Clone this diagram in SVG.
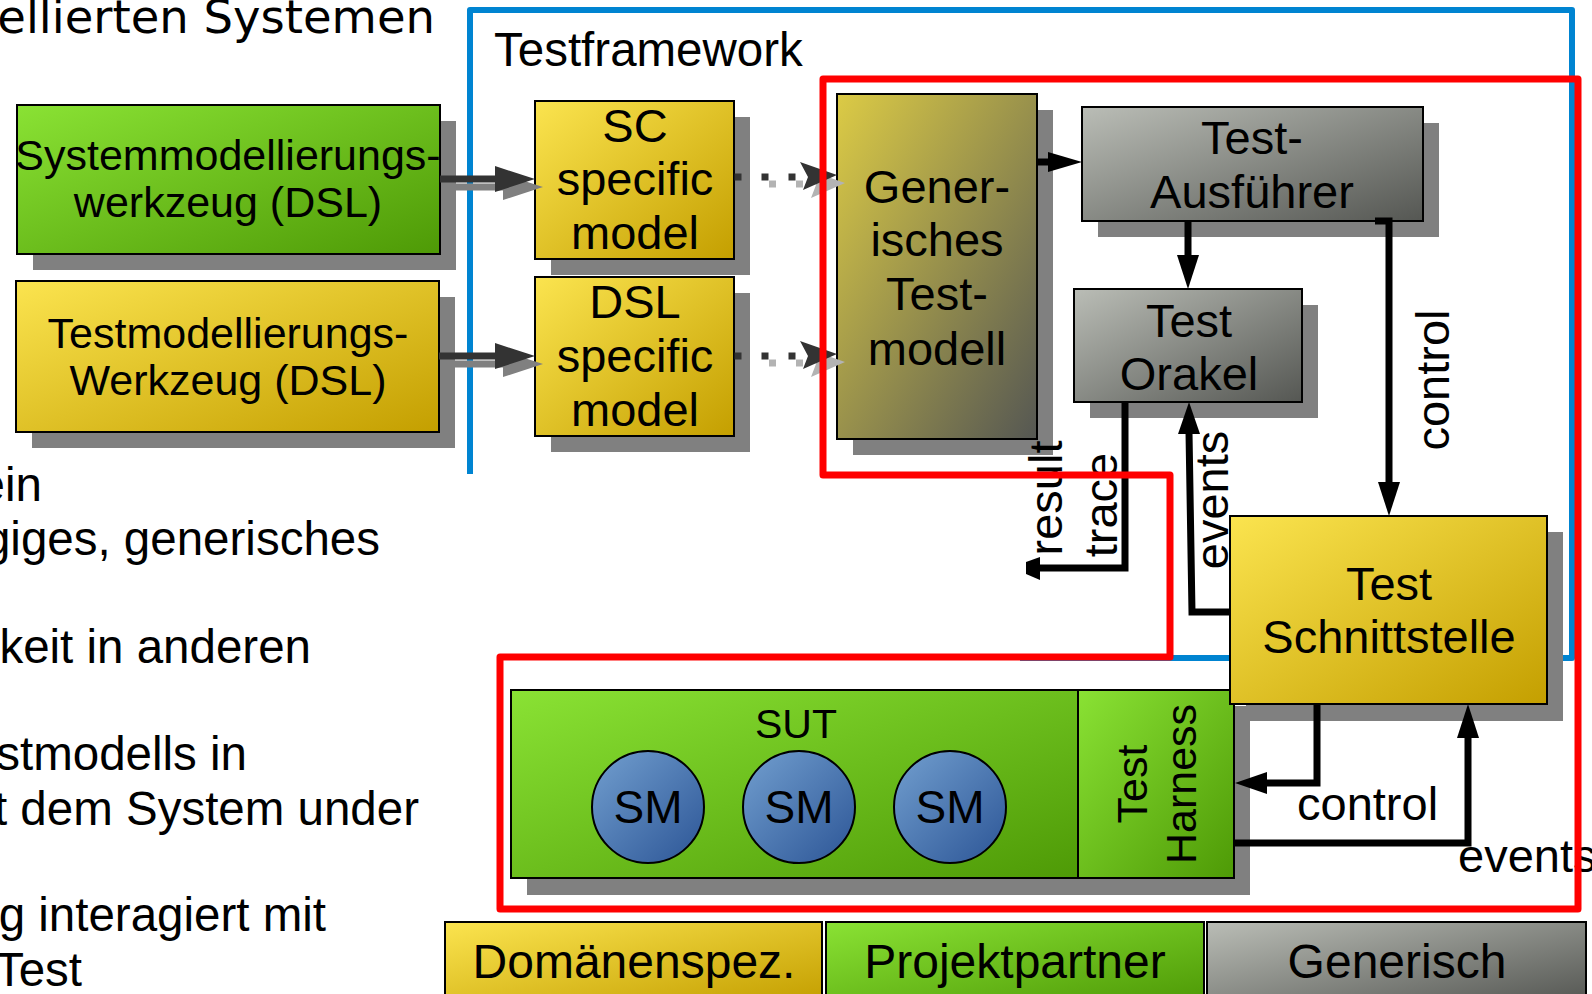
<svg xmlns="http://www.w3.org/2000/svg" width="1592" height="994" viewBox="0 0 1592 994">
<defs>
<linearGradient id="gY" x1="0" y1="0" x2="1" y2="1"><stop offset="0" stop-color="#fbe44f"/><stop offset="1" stop-color="#c49f00"/></linearGradient>
<linearGradient id="gG" x1="0" y1="0" x2="1" y2="1"><stop offset="0" stop-color="#8ae234"/><stop offset="1" stop-color="#4e9a06"/></linearGradient>
<linearGradient id="gA" x1="0" y1="0" x2="1" y2="1"><stop offset="0" stop-color="#babdb6"/><stop offset="1" stop-color="#555753"/></linearGradient>
<linearGradient id="gB" x1="0" y1="0" x2="1" y2="1"><stop offset="0" stop-color="#729fcf"/><stop offset="1" stop-color="#2c5596"/></linearGradient>
<linearGradient id="gGen" x1="0" y1="0" x2="1" y2="1"><stop offset="0" stop-color="#dccb45"/><stop offset="1" stop-color="#555753"/></linearGradient>
</defs>
<style>
.t{font-family:"Liberation Sans",Arial,sans-serif;fill:#000;}
.m{text-anchor:middle;}
.e{text-anchor:end;}
.box{stroke:#000;stroke-width:2;}
.sh{fill:#808080;}
.f42{font-size:43px;}
.f46{font-size:47px;}
.f47{font-size:47.5px;}
.ln{fill:none;stroke:#000;stroke-width:7;stroke-linejoin:miter;}
.ah{fill:#000;}
.dk{fill:none;stroke:#333;stroke-width:7;}
.dkf{fill:#333;}
.shl{fill:none;stroke:#808080;stroke-width:7;}
.shf{fill:#808080;}
.dot{fill:none;stroke:#333;stroke-width:7;stroke-dasharray:7 20;}
.dotsh{fill:none;stroke:#b3b3b3;stroke-width:7;stroke-dasharray:7 20;}
.dotshf{fill:#b3b3b3;}
</style>

<g id="background-text">
<text class="e" x="435" y="33" style="font-family:'DejaVu Sans',sans-serif;font-size:46.5px;fill:#000">ellierten Systemen</text>
<text class="t e f47" x="42" y="501">ein</text>
<text class="t e f47" x="380" y="555">giges, generisches</text>
<text class="t e f47" x="311" y="663">keit in anderen</text>
<text class="t e f47" x="247" y="770">stmodells in</text>
<text class="t e f47" x="419" y="825">t dem System under</text>
<text class="t e f47" x="326" y="931">g interagiert mit</text>
<text class="t e f47" x="82" y="986">Test</text>
</g>

<g id="testframework">
<polyline points="470,474 470,10 1572,10 1572,658 1020,658" fill="none" stroke="#0084d1" stroke-width="6" stroke-linejoin="round"/>
<text class="t" x="494" y="66" style="font-size:47.5px">Testframework</text>
</g>

<g id="systemmodellierungswerkzeug">
<rect class="sh" x="33" y="121" width="423" height="149"/>
<rect class="box" x="17" y="105" width="423" height="149" fill="url(#gG)"/>
<text class="t m f42" x="228" y="170">Systemmodellierungs-</text>
<text class="t m f42" x="228" y="217">werkzeug (DSL)</text>
</g>

<g id="testmodellierungswerkzeug">
<rect class="sh" x="32" y="297" width="423" height="151"/>
<rect class="box" x="16" y="281" width="423" height="151" fill="url(#gY)"/>
<text class="t m f42" x="228" y="348">Testmodellierungs-</text>
<text class="t m f42" x="228" y="395">Werkzeug (DSL)</text>
</g>

<g id="sc-model">
<rect class="sh" x="551" y="117" width="199" height="158"/>
<rect class="box" x="535" y="101" width="199" height="158" fill="url(#gY)"/>
<text class="t m f46" x="635" y="142">SC</text>
<text class="t m f46" x="635" y="195">specific</text>
<text class="t m f46" x="635" y="249">model</text>
</g>

<g id="dsl-model">
<rect class="sh" x="551" y="293" width="199" height="159"/>
<rect class="box" x="535" y="277" width="199" height="159" fill="url(#gY)"/>
<text class="t m f46" x="635" y="318">DSL</text>
<text class="t m f46" x="635" y="372">specific</text>
<text class="t m f46" x="635" y="426">model</text>
</g>

<g id="generisches-testmodell">
<rect class="sh" x="853" y="110" width="200" height="345"/>
<rect class="box" x="837" y="94" width="200" height="345" fill="url(#gGen)"/>
<text class="t m f46" x="937" y="203">Gener-</text>
<text class="t m f46" x="937" y="256">isches</text>
<text class="t m f46" x="937" y="310">Test-</text>
<text class="t m f46" x="937" y="365">modell</text>
</g>

<g id="test-ausfuehrer">
<rect class="sh" x="1098" y="123" width="341" height="114"/>
<rect class="box" x="1082" y="107" width="341" height="114" fill="url(#gA)"/>
<text class="t m f46" x="1252" y="154">Test-</text>
<text class="t m f46" x="1252" y="208">Ausführer</text>
</g>

<g id="test-orakel">
<rect class="sh" x="1090" y="305" width="228" height="113"/>
<rect class="box" x="1074" y="289" width="228" height="113" fill="url(#gA)"/>
<text class="t m f46" x="1189" y="337">Test</text>
<text class="t m f46" x="1189" y="390">Orakel</text>
</g>

<g id="sut">
<rect class="sh" x="527" y="706" width="723" height="189"/>
<rect class="box" x="511" y="690" width="567" height="188" fill="url(#gG)"/>
<text class="t m" x="796" y="738" style="font-size:41px">SUT</text>
<ellipse class="box" cx="648" cy="807" rx="56" ry="56" fill="url(#gB)" stroke-width="1.5"/>
<ellipse class="box" cx="799" cy="807" rx="56" ry="56" fill="url(#gB)" stroke-width="1.5"/>
<ellipse class="box" cx="950" cy="807" rx="56" ry="56" fill="url(#gB)" stroke-width="1.5"/>
<text class="t m" x="648" y="823" style="font-size:46px">SM</text>
<text class="t m" x="799" y="823" style="font-size:46px">SM</text>
<text class="t m" x="950" y="823" style="font-size:46px">SM</text>
</g>

<g id="test-harness">
<rect class="box" x="1078" y="690" width="156" height="188" fill="url(#gG)"/>
<text class="t m f42" transform="translate(1147,784) rotate(-90)">Test</text>
<text class="t m f42" transform="translate(1196,784) rotate(-90)">Harness</text>
</g>

<g id="test-schnittstelle">
<rect class="sh" x="1246" y="532" width="317" height="189"/>
<rect class="box" x="1230" y="516" width="317" height="188" fill="url(#gY)"/>
<text class="t m f46" x="1389" y="600">Test</text>
<text class="t m f46" x="1389" y="653">Schnittstelle</text>
</g>

<g id="connectors">
<line class="shl" x1="448" y1="187" x2="505" y2="187"/>
<polygon class="shf" points="503,174 543,187 503,200"/>
<line class="dk" x1="440" y1="179" x2="497" y2="179"/>
<polygon class="dkf" points="495,166 535,179 495,192"/>
<line class="shl" x1="447" y1="364" x2="505" y2="364"/>
<polygon class="shf" points="503,351 543,364 503,377"/>
<line class="dk" x1="439" y1="356" x2="497" y2="356"/>
<polygon class="dkf" points="495,343 535,356 495,369"/>
<line class="dotsh" x1="769" y1="184" x2="810" y2="184"/>
<polygon class="dotshf" points="808,170 845,183 811,198 816,185"/>
<line class="dot" x1="734.5" y1="177" x2="800" y2="177"/>
<polygon class="dkf" points="800,162 837,175 803,190 808,177"/>
<line class="dotsh" x1="769" y1="363" x2="810" y2="363"/>
<polygon class="dotshf" points="808,349 845,362 811,377 816,364"/>
<line class="dot" x1="734.5" y1="356" x2="800" y2="356"/>
<polygon class="dkf" points="800,341 837,354 803,369 808,356"/>
<line class="ln" x1="1037" y1="162" x2="1050" y2="162"/>
<polygon class="ah" points="1048,152 1082,162 1048,172"/>
<line class="ln" x1="1188" y1="221" x2="1188" y2="257"/>
<polygon class="ah" points="1177,255 1188,289 1199,255"/>
<path class="ln" d="M1375,221 H1389 V484"/>
<polygon class="ah" points="1378,482 1389,516 1400,482"/>
<text class="t m f46" transform="translate(1449,380) rotate(-90)">control</text>
<path class="ln" d="M1125,402 V568 H1038"/>
<polygon class="ah" points="1040,557 1040,580 1026,574 1026,562"/>
<text class="t m f46" transform="translate(1062,498) rotate(-90)">result</text>
<text class="t m f46" transform="translate(1117,505) rotate(-90)">trace</text>
<path class="ln" d="M1230,612 H1192 L1189,432"/>
<polygon class="ah" points="1178,434 1189,402 1200,434"/>
<text class="t m f46" transform="translate(1228,500) rotate(-90)">events</text>
<path class="ln" d="M1317,704 V783 H1265"/>
<polygon class="ah" points="1267,772 1235,783 1267,794"/>
<text class="t f46" x="1297" y="820">control</text>
<path class="ln" d="M1234,843 H1468 V736"/>
<polygon class="ah" points="1457,738 1468,704 1479,738"/>
<text class="t f46" x="1458" y="872">events</text>
</g>

<g id="red-frame">
<path d="M823,475 V79 H1578 V909 H500 V657 H1170 V475 Z" fill="none" stroke="#ff0000" stroke-width="7" stroke-linejoin="round"/>
</g>

<g id="legend">
<rect class="box" x="445" y="922" width="377" height="80" fill="url(#gY)" stroke-width="1.5"/>
<rect class="box" x="826" y="922" width="378" height="80" fill="url(#gG)" stroke-width="0"/>
<rect class="box" x="1207" y="922" width="379" height="80" fill="url(#gA)" stroke-width="1.5"/>
<text class="t m" x="634" y="978" style="font-size:48px">Domänenspez.</text>
<text class="t m" x="1015" y="978" style="font-size:48px">Projektpartner</text>
<text class="t m" x="1397" y="978" style="font-size:48px">Generisch</text>
</g>
</svg>
